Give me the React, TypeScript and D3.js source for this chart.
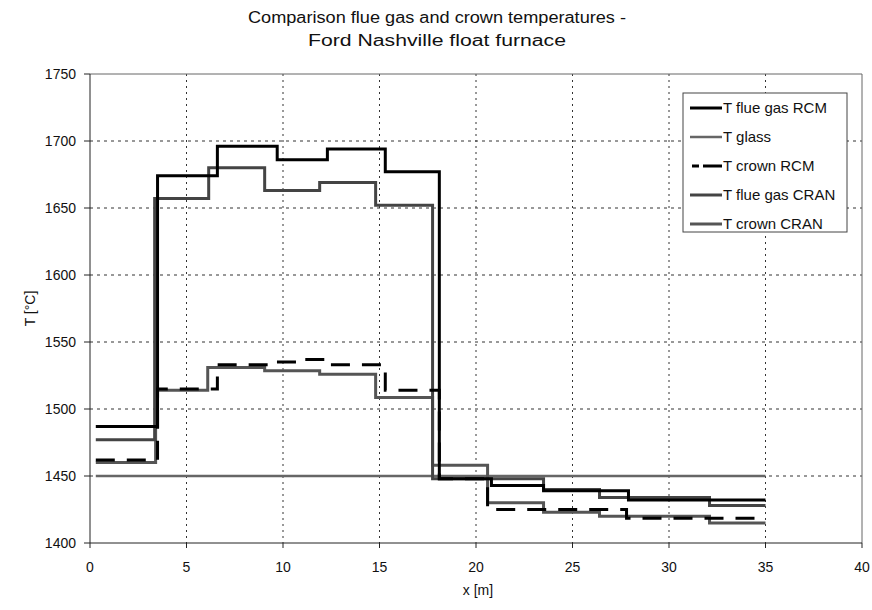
import React from "react";
import * as d3 from "d3";

// x breakpoints [m] and step levels [°C]
const fgRcmX = [0.3, 3.5, 6.6, 9.7, 12.3, 15.3, 18.1, 20.8, 23.5, 27.9, 35];
const fgRcmY = [1487, 1674, 1696, 1686, 1694, 1677, 1448, 1443, 1439, 1432];

const glassX = [0.3, 35];
const glassY = [1450];

const crRcmX = [0.3, 3.5, 6.6, 9.6, 11.0, 12.3, 15.3, 18.1, 20.6, 27.8, 35];
const crRcmY = [1462, 1515, 1533, 1535, 1537, 1533, 1514, 1448, 1425, 1418.5];

const fgCranX = [0.3, 3.35, 6.15, 9.05, 11.9, 14.8, 17.75, 23.5, 26.4, 32.1, 35];
const fgCranY = [1477, 1657, 1680, 1663, 1669, 1652, 1448, 1440, 1434, 1428];

const crCranX = [0.3, 3.4, 6.1, 9.05, 11.9, 14.8, 17.75, 20.6, 23.5, 26.4, 32.1, 35];
const crCranY = [1460, 1514, 1531, 1528.5, 1526, 1508.5, 1458, 1430, 1423, 1420, 1415];

const xTicks = [0, 5, 10, 15, 20, 25, 30, 35, 40];
const yTicks = [1400, 1450, 1500, 1550, 1600, 1650, 1700, 1750];

const seriesNames = ["T flue gas RCM", "T glass", "T crown RCM", "T flue gas CRAN", "T crown CRAN"];

const W = 872, H = 610;
const L = 90, R = 862, T = 74, B = 543;
const FONT = "'Liberation Sans', Arial, Helvetica, sans-serif";

export default function App() {
  const x = d3.scaleLinear().domain([0, 40]).range([L, R]);
  const y = d3.scaleLinear().domain([1400, 1750]).range([B, T]);

  const toPts = (xs: number[], ys: number[]) => {
    const pts: [number, number][] = ys.map((v, i) => [xs[i], v]);
    pts.push([xs[xs.length - 1], ys[ys.length - 1]]);
    return pts;
  };
  const line = d3
    .line<[number, number]>()
    .x((d) => x(d[0]))
    .y((d) => y(d[1]))
    .curve(d3.curveStepAfter);

  const series = [
    { name: seriesNames[0], xs: fgRcmX, ys: fgRcmY, color: "#000", w: 3, dash: "" },
    { name: seriesNames[1], xs: glassX, ys: glassY, color: "#666", w: 2.5, dash: "" },
    { name: seriesNames[2], xs: crRcmX, ys: crRcmY, color: "#000", w: 3, dash: "19 12" },
    { name: seriesNames[3], xs: fgCranX, ys: fgCranY, color: "#444", w: 3, dash: "" },
    { name: seriesNames[4], xs: crCranX, ys: crCranY, color: "#555", w: 3, dash: "" },
  ];
  const drawOrder = [1, 4, 3, 2, 0];

  const legX = 683, legY = 93, legW = 164, legH = 139;

  return (
    <svg width={W} height={H} style={{ position: "absolute", left: 0, top: 0, background: "#fff" }}>
      <rect x={0} y={0} width={W} height={H} fill="#fff" />
      <text x={437} y={23} textAnchor="middle" fontFamily={FONT} fontSize={16} fill="#111"
        textLength={378} lengthAdjust="spacingAndGlyphs">
        Comparison flue gas and crown temperatures -
      </text>
      <text x={437} y={46} textAnchor="middle" fontFamily={FONT} fontSize={16} fill="#111"
        textLength={258} lengthAdjust="spacingAndGlyphs">
        Ford Nashville float furnace
      </text>

      {/* grid */}
      {xTicks.filter((t) => t > 0 && t < 40).map((t) => (
        <line key={"gx" + t} x1={x(t)} x2={x(t)} y1={T} y2={B} stroke="#333" strokeWidth={1} strokeDasharray="2 4" />
      ))}
      {yTicks.filter((t) => t > 1400 && t < 1750).map((t) => (
        <line key={"gy" + t} x1={L} x2={R} y1={y(t)} y2={y(t)} stroke="#333" strokeWidth={1} strokeDasharray="3 4" />
      ))}

      {/* frame */}
      <line x1={L} x2={R} y1={T} y2={T} stroke="#666" strokeWidth={1} />
      <line x1={R} x2={R} y1={T} y2={B} stroke="#666" strokeWidth={1} />
      <line x1={L} x2={L} y1={T} y2={B} stroke="#222" strokeWidth={1} />
      <line x1={L} x2={R} y1={B} y2={B} stroke="#222" strokeWidth={1} />

      {/* ticks */}
      {yTicks.map((t) => (
        <g key={"yt" + t}>
          <line x1={L - 6} x2={L} y1={y(t)} y2={y(t)} stroke="#222" />
          <text x={L - 14} y={y(t) + 5} textAnchor="end" fontFamily={FONT} fontSize={14} fill="#111">
            {t}
          </text>
        </g>
      ))}
      {xTicks.map((t) => (
        <g key={"xt" + t}>
          <line x1={x(t)} x2={x(t)} y1={B} y2={B + 5} stroke="#222" />
          <text x={x(t)} y={B + 29} textAnchor="middle" fontFamily={FONT} fontSize={14} fill="#111">
            {t}
          </text>
        </g>
      ))}

      <text x={(L + R) / 2 + 2} y={595} textAnchor="middle" fontFamily={FONT} fontSize={14} fill="#111">
        x [m]
      </text>
      <text
        transform={`translate(35, ${(T + B) / 2}) rotate(-90)`}
        textAnchor="middle"
        fontFamily={FONT}
        fontSize={14}
        fill="#111"
      >
        T [°C]
      </text>

      {/* series */}
      {drawOrder.map((i) => {
        const s = series[i];
        return (
          <path
            key={s.name}
            d={line(toPts(s.xs, s.ys)) || ""}
            fill="none"
            stroke={s.color}
            strokeWidth={s.w}
            strokeDasharray={s.dash || undefined}
          />
        );
      })}

      {/* legend */}
      <rect x={legX} y={legY} width={legW} height={legH} fill="#fff" stroke="#444" strokeWidth={1} />
      {series.map((s, i) => {
        const ly = legY + 15 + i * 29;
        return (
          <g key={"lg" + s.name}>
            <line
              x1={s.dash ? legX + 9 : legX + 7}
              x2={legX + 39}
              y1={ly}
              y2={ly}
              stroke={s.color}
              strokeWidth={s.w}
              strokeDasharray={s.dash ? "7 4 19" : undefined}
            />
            <text x={legX + 40} y={ly + 5} fontFamily={FONT} fontSize={15} fill="#111">
              {s.name}
            </text>
          </g>
        );
      })}
    </svg>
  );
}
